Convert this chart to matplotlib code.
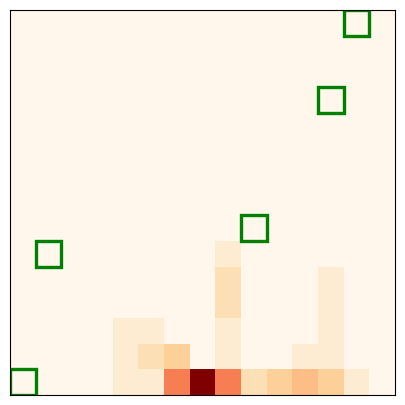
import numpy as np
import matplotlib
matplotlib.use("Agg")
import matplotlib.pyplot as plt
from matplotlib.patches import Rectangle

n = 15
# nonzero cells as (row from bottom, col, count)
rows = [0, 0, 0, 0, 0, 0, 0, 0, 0, 0,
        1, 1, 1, 1, 1, 1,
        2, 2, 2, 2,
        3, 3,
        4, 4,
        5]
cols = [4, 5, 6, 7, 8, 9, 10, 11, 12, 13,
        4, 5, 6, 8, 11, 12,
        4, 5, 8, 12,
        8, 12,
        8, 12,
        8]
counts = [1, 1, 6, 11, 6, 2, 3, 4, 3, 1,
          1, 2, 3, 1, 1, 1,
          1, 1, 1, 1,
          2, 1,
          2, 1,
          1]

# highlighted cells (col, row)
mark_cols = [0, 1, 9, 12, 13]
mark_rows = [0, 5, 6, 11, 14]

grid = np.zeros((n, n))
for r, c, v in zip(rows, cols, counts):
    grid[r, c] = v

fig = plt.figure(figsize=(4.05, 4.05), dpi=100)
ax = fig.add_axes([10/405, 10/405, 385/405, 385/405])
ax.imshow(grid, cmap='OrRd', origin='lower', vmin=0, vmax=11,
          aspect='auto', interpolation='nearest')

for c, r in zip(mark_cols, mark_rows):
    ax.add_patch(Rectangle((c - 0.5, r - 0.5), 1, 1, fill=False,
                           edgecolor='green', linewidth=2.4))

ax.set_xlim(-0.5, n - 0.5)
ax.set_ylim(-0.5, n - 0.5)
ax.set_xticks([])
ax.set_yticks([])

fig.savefig('out.png', dpi=100)
